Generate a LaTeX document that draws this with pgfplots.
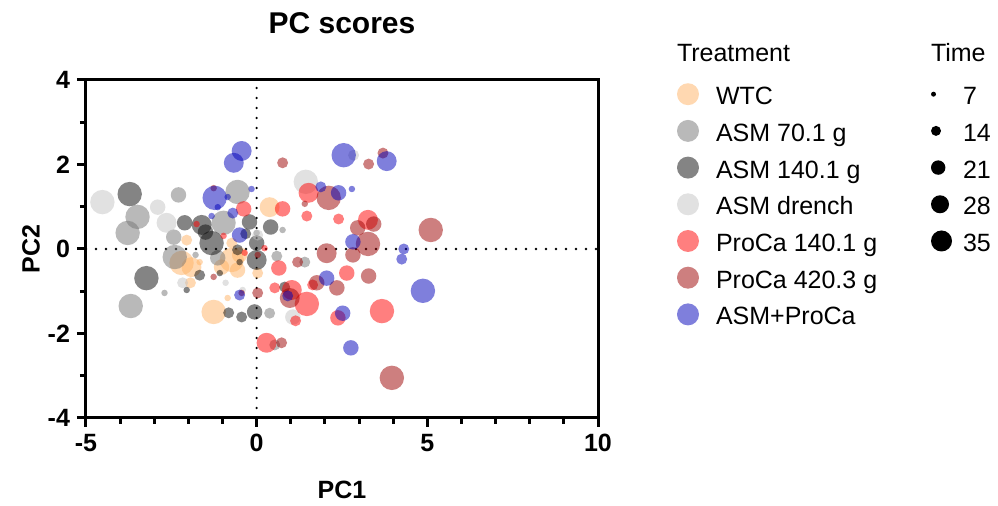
\documentclass[border=0pt]{standalone}
\usepackage{fontspec}
\setmainfont{Liberation Sans}
\usepackage{pgfplots}
\pgfplotsset{compat=1.18}
\definecolor{cWTC}{RGB}{255,178,100}
\definecolor{cAa}{RGB}{115,115,115}
\definecolor{cAb}{RGB}{10,10,10}
\definecolor{cAdr}{RGB}{195,195,195}
\definecolor{cPa}{RGB}{255,0,0}
\definecolor{cPb}{RGB}{155,0,0}
\definecolor{cAP}{RGB}{0,0,185}
\newcommand{\lf}{\fontsize{12.5}{15}\selectfont}
\pgfplotsset{
  bub/.style={scatter, only marks, mark=*, forget plot, color=#1,
    scatter/use mapped color={draw=none, fill=#1, fill opacity=0.5},
    mark options={draw opacity=0, fill opacity=0.5},
    visualization depends on={0.5+0.16*\thisrow{t} \as \msz},
    scatter/@pre marker code/.append style={/tikz/mark size=\msz pt}},
  treatleg/.style={legend image code/.code={\path[draw=none,fill=none] (0pt,-5pt) rectangle (19.5pt,7.5pt); \fill[draw=none, #1, fill opacity=0.5] (5.5pt,2pt) circle[radius=5.5pt];}},
  timeleg/.style={legend image code/.code={\path[draw=none,fill=none] (0pt,-5pt) rectangle (16pt,7.5pt); \fill[draw=none, black] (#1,2pt) circle[radius=#1];}},
  legstyle/.style={legend cell align=left, legend style={draw=none, fill=none, inner sep=0pt, outer sep=0pt, row sep=5.1pt, column sep=0pt, anchor=north west, nodes={inner sep=0pt, text height=9pt, text depth=2.5pt, font=\lf}}},
}
\begin{document}
\begin{tikzpicture}
\path[use as bounding box] (0,0) rectangle (499pt,253pt);
\begin{axis}[
  at={(43pt,44pt)}, anchor=south west, scale only axis,
  width=256pt, height=169pt,
  xmin=-5,xmax=10,ymin=-4,ymax=4,
  xtick={-5,0,5,10}, ytick={-4,-2,0,2,4},
  minor xtick={-4,-3,-2,-1,1,2,3,4,6,7,8,9}, minor ytick={-3,-1,1,3},
  tick align=outside, tick pos=left,
  major tick length=4.5pt, minor tick length=3pt,
  axis line style={line width=1.5pt, black},
  every tick/.style={black, line width=1.5pt},
  /pgf/number format/assume math mode=true,
  tick label style={font=\bfseries\lf},
  xlabel={PC1}, ylabel={PC2},
  xlabel style={font=\bfseries\lf, at={(axis description cs:0.5,-0.213)}, anchor=center},
  ylabel style={font=\bfseries\lf, at={(axis description cs:-0.1074,0.5)}, anchor=center},
  title={PC scores},
  title style={font=\bfseries\fontsize{15}{18}\selectfont, at={(axis description cs:0.5,1.133)}, anchor=center},
  legstyle, legend style={at={(axis description cs:1.1543,1.1065)}},
]
\addplot[forget plot, black, line width=1.3pt, line cap=round, dash pattern=on 0pt off 5pt] coordinates {(0,-4) (0,4)};
\addplot[forget plot, black, line width=1.3pt, line cap=round, dash pattern=on 0pt off 5pt] coordinates {(-5,0) (10,0)};
% WTC
\addplot[bub=cWTC] table {
x y t
-2.20 -0.33 35
-1.91 -0.43 28
-0.73 -0.26 35
-1.03 -0.43 21
-0.56 -0.50 21
-0.50 -0.14 21
-1.94 -0.80 14
-0.85 -1.16 7
-1.26 -1.49 35
0.03 -0.57 14
0.38 0.99 28
-2.05 0.21 14
-1.67 -0.31 7
-0.73 0.14 14
};
% ASM 70.1
\addplot[bub=cAa] table {
x y t
-3.49 0.76 35
-3.78 0.38 35
-2.29 1.28 21
-2.43 0.28 21
-0.56 1.35 35
-0.97 0.62 35
-3.69 -1.35 35
-2.70 -1.04 7
-2.40 -0.19 35
-1.14 -0.21 21
-1.79 -0.14 7
0.76 0.45 7
0.59 -0.17 14
1.41 -0.31 14
0.38 -1.52 14
0.53 -2.27 14
0.00 0.38 7
};
% ASM 140.1
\addplot[bub=cAb] table {
x y t
-3.72 1.30 35
-2.11 0.62 21
-3.23 -0.69 35
-1.61 0.57 28
-1.50 0.40 21
-1.32 0.14 35
-0.21 0.64 21
0.00 0.14 21
0.41 0.52 21
0.00 -0.26 28
-0.56 -0.02 14
-1.67 -0.62 14
-2.05 -0.97 7
-1.08 -0.57 7
-0.82 -1.51 14
-0.44 -1.61 14
-0.06 -1.49 21
0.82 -0.90 14
-0.32 0.36 14
-0.50 -0.31 7
};
% ASM drench
\addplot[bub=cAdr] table {
x y t
-4.52 1.11 35
-2.90 0.99 21
-2.64 0.62 28
-2.17 -0.80 14
-0.91 -0.80 7
2.84 2.22 14
1.44 1.59 35
1.06 -1.61 21
0.03 0.33 14
-0.41 -0.97 7
};
% ProCa 140.1
\addplot[bub=cPa] table {
x y t
-0.38 0.95 21
-1.76 0.59 7
-0.97 0.31 7
1.52 1.33 28
0.76 0.95 21
1.47 0.78 14
2.40 0.71 14
3.26 0.69 28
0.23 0.02 7
0.65 -0.45 21
2.64 -0.57 21
0.53 -0.92 14
1.03 -0.97 28
1.64 -0.85 14
1.47 -1.30 35
3.67 -1.47 35
2.38 -1.63 21
1.14 -1.70 14
0.29 -2.22 28
-0.35 -0.09 7
};
% ProCa 420.3
\addplot[bub=cPb] table {
x y t
-1.26 1.44 7
0.76 2.04 14
3.70 2.27 14
3.28 2.01 14
2.11 1.21 35
1.41 1.07 7
3.43 0.59 21
2.96 0.50 21
5.10 0.45 35
3.26 0.12 35
2.05 -0.10 28
1.20 -0.31 14
2.82 -0.14 21
1.76 -0.80 21
2.35 -0.92 21
3.28 -0.64 21
0.97 -1.16 28
0.03 -1.04 14
0.73 -2.22 14
3.96 -3.05 35
-1.26 -0.66 7
-0.44 -1.04 7
0.03 -0.14 7
};
% ASM+ProCa
\addplot[bub=cAP] table {
x y t
-0.44 2.32 28
-0.67 2.04 28
-1.23 1.21 35
-0.15 1.42 7
-0.85 1.23 7
-1.14 0.99 7
-1.32 0.78 7
-0.70 0.85 14
-0.50 0.33 21
2.55 2.22 35
3.81 2.08 28
1.88 1.47 14
2.40 1.33 21
2.79 1.42 7
2.82 0.17 21
4.31 0.00 14
4.25 -0.24 14
2.05 -0.69 21
4.87 -0.99 35
0.91 -1.11 14
2.52 -1.52 21
2.76 -2.34 21
-0.50 -1.09 14
};
\addlegendimage{empty legend}\addlegendentry[text depth=5.5pt]{\hspace*{-19.5pt}Treatment}
\addlegendimage{treatleg=cWTC}\addlegendentry{WTC}
\addlegendimage{treatleg=cAa}\addlegendentry{ASM 70.1 g}
\addlegendimage{treatleg=cAb}\addlegendentry{ASM 140.1 g}
\addlegendimage{treatleg=cAdr}\addlegendentry{ASM drench}
\addlegendimage{treatleg=cPa}\addlegendentry{ProCa 140.1 g}
\addlegendimage{treatleg=cPb}\addlegendentry{ProCa 420.3 g}
\addlegendimage{treatleg=cAP}\addlegendentry{ASM+ProCa}
\end{axis}
\begin{axis}[
  at={(43pt,44pt)}, anchor=south west, scale only axis,
  width=256pt, height=169pt, hide axis,
  xmin=0,xmax=1,ymin=0,ymax=1,
  legstyle, legend style={at={(axis description cs:1.6504,1.1065)}},
]
\addlegendimage{empty legend}\addlegendentry[text depth=5.5pt]{\hspace*{-16pt}Time}
\addlegendimage{timeleg=1.25pt}\addlegendentry{7}
\addlegendimage{timeleg=2.5pt}\addlegendentry{14}
\addlegendimage{timeleg=3.6pt}\addlegendentry{21}
\addlegendimage{timeleg=4.5pt}\addlegendentry{28}
\addlegendimage{timeleg=5.25pt}\addlegendentry{35}
\end{axis}
\end{tikzpicture}
\end{document}
